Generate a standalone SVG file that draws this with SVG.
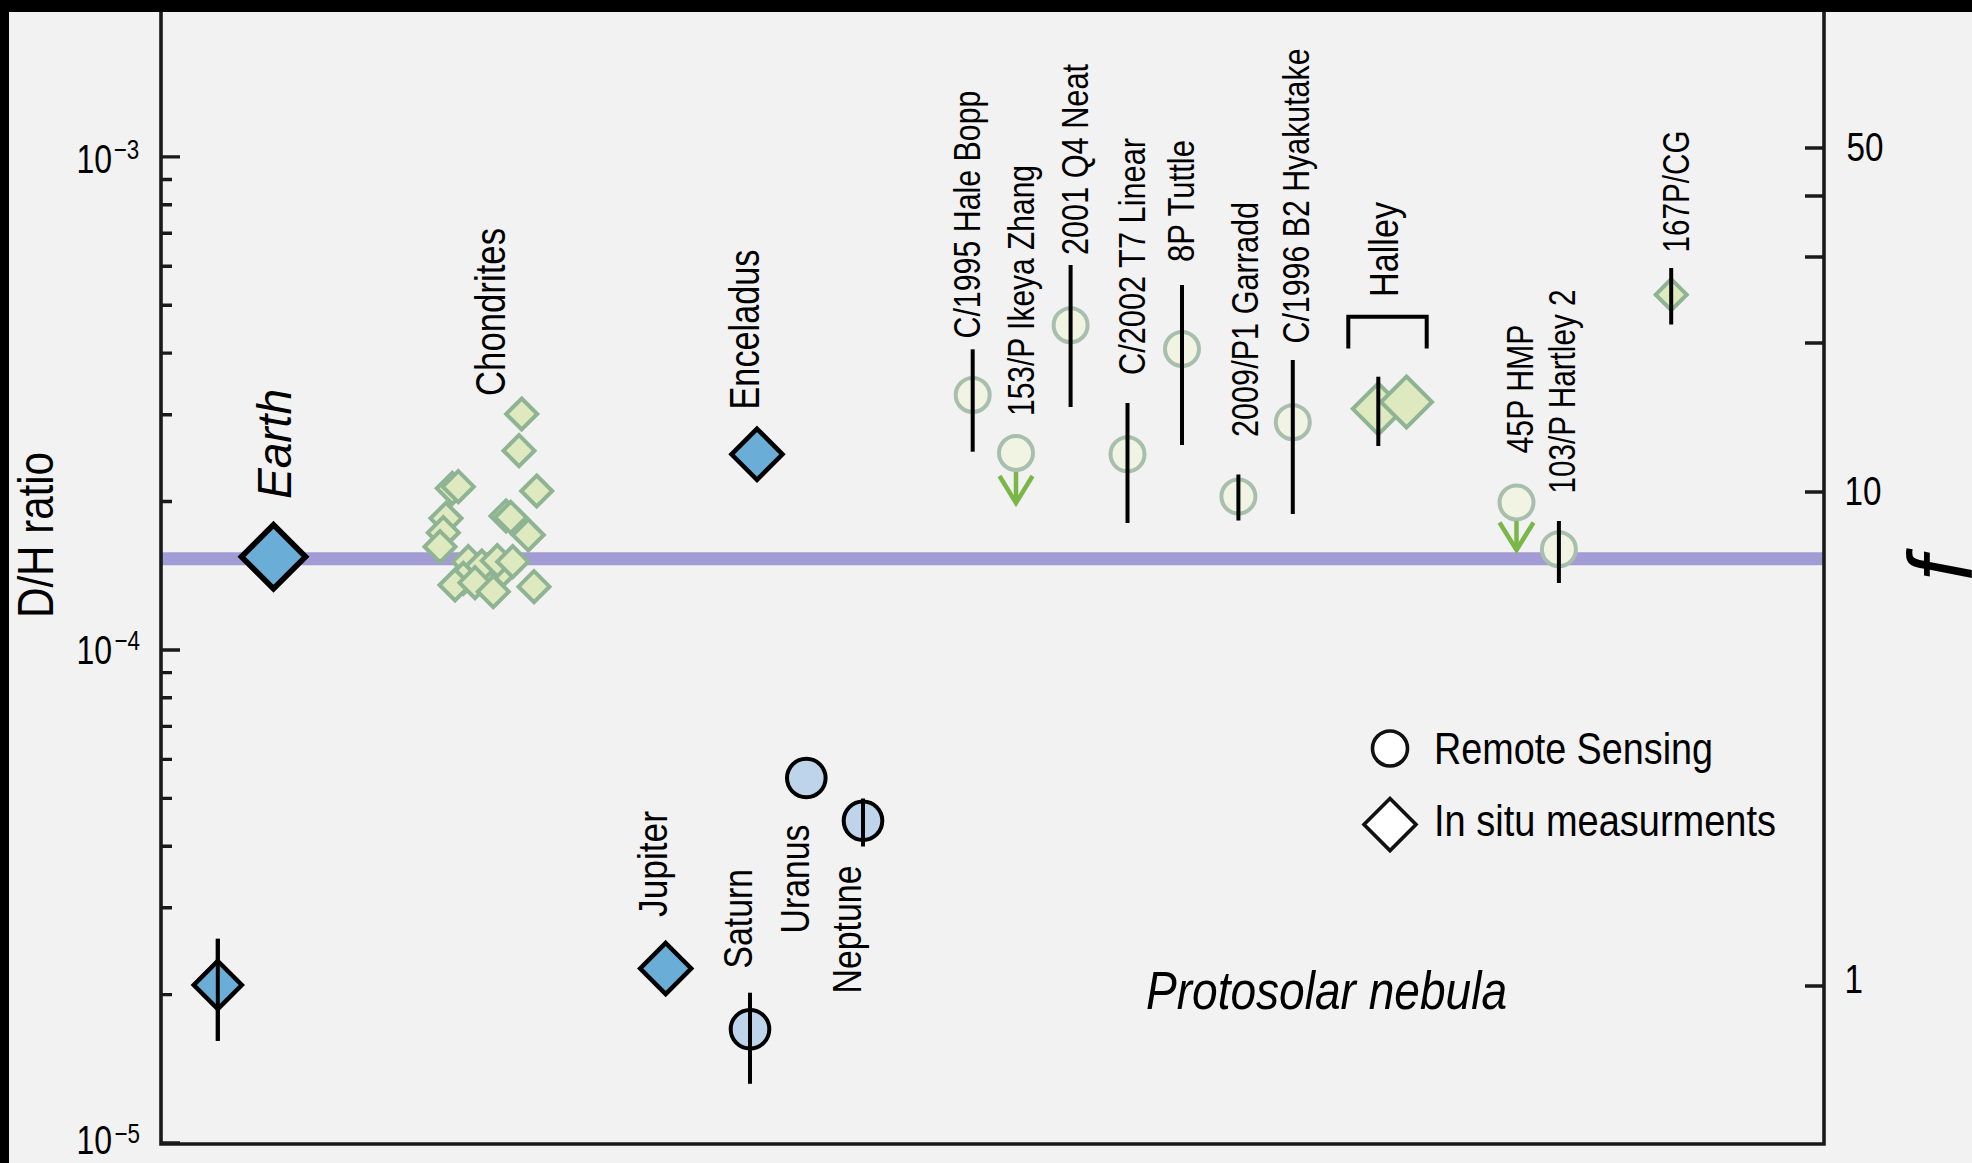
<svg xmlns="http://www.w3.org/2000/svg" xmlns:xlink="http://www.w3.org/1999/xlink" width="1972" height="1163" viewBox="0 0 1972 1163">
<style>
.ax{stroke:#1a1a1a;stroke-width:3.6;fill:none}
.tk{stroke:#1a1a1a;stroke-width:3.4}
.eb{stroke:#000;stroke-width:4;fill:none}
.comet{fill:#f1f3e3;stroke:#a9bfad;stroke-width:4}
.chon{fill:#dfe9bf;stroke:#8fb493;stroke-width:4}
.blue{fill:#6aadd6;stroke:#000;stroke-width:4.5;stroke-linejoin:miter}
.planet{fill:#bdd4ea;stroke:#000;stroke-width:4}
.leg{fill:#fff;stroke:#111;stroke-width:3.6}
.arr{stroke:#7ab648;fill:none;stroke-width:4.5}
.t{font-family:"Liberation Sans",Arial,sans-serif;fill:#000}
.i{font-style:italic}
.sup{font-size:28px}
</style>
<defs>
<path id="dc" d="M0,-15.5L15.5,0L0,15.5L-15.5,0Z"/>
<path id="dh" d="M0,-25.5L25.5,0L0,25.5L-25.5,0Z"/>
</defs>
<rect x="0" y="0" width="1972" height="1163" fill="#f2f2f2"/>
<rect x="0" y="0" width="1972" height="12" fill="#000"/>
<rect x="0" y="0" width="9" height="1163" fill="#000"/>

<g id="protosolar-line">
<line x1="161" y1="558.7" x2="1824" y2="558.7" stroke="#a39bd3" stroke-width="13"/>
</g>

<g id="axes">
<path class="ax" d="M161,12V1144H1824V12"/>
<g id="left-ticks">
<path class="tk" d="M161,156.9H180M161,650H180M161,1143H180"/>
<path class="tk" d="M161,179.5H172M161,204.7H172M161,233.3H172M161,266.3H172M161,305.3H172M161,353.1H172M161,414.7H172M161,501.5H172M161,672.6H172M161,697.8H172M161,726.4H172M161,759.4H172M161,798.4H172M161,846.2H172M161,907.8H172M161,994.6H172"/>
</g>
<g id="right-ticks">
<path class="tk" d="M1805,148H1824M1805,196H1824M1805,257H1824M1805,343H1824M1805,492H1824M1805,986H1824"/>
</g>
<g id="left-tick-labels" class="t">
<text transform="translate(76.5,173.2) scale(0.8,1)" font-size="40">10<tspan class="sup" dx="2" dy="-14.2">−3</tspan></text>
<text transform="translate(76.5,663.8) scale(0.8,1)" font-size="40">10<tspan class="sup" dx="3" dy="-13.8">−4</tspan></text>
<text transform="translate(76.5,1153.5) scale(0.8,1)" font-size="40">10<tspan class="sup" dx="3" dy="-10.5">−5</tspan></text>
</g>
<g id="right-tick-labels" class="t">
<text x="1846.5" y="160.7" font-size="40" textLength="37" lengthAdjust="spacingAndGlyphs">50</text>
<text x="1844.5" y="505" font-size="40" textLength="37" lengthAdjust="spacingAndGlyphs">10</text>
<text x="1844.5" y="992.7" font-size="40" textLength="18.5" lengthAdjust="spacingAndGlyphs">1</text>
</g>
<text id="y-title" class="t" transform="translate(52.5,618) rotate(-90)" font-size="50" textLength="166" lengthAdjust="spacingAndGlyphs">D/H ratio</text>
<text id="f-title" class="t i" transform="translate(1972,581) rotate(-90)" font-size="90">f</text>
</g>

<g id="connectors">
<path class="eb" d="M217.8,938.8V1040.8"/>
</g>

<g id="earth">
<use xlink:href="#dh" href="#dh" class="blue" transform="translate(273.5,556.7) scale(1.255)"/>
<text class="t i" transform="translate(290.5,499) rotate(-90)" font-size="49" textLength="110" lengthAdjust="spacingAndGlyphs">Earth</text>
</g>

<g id="protosolar-point">
<path class="blue" d="M217.8,961L241.8,985L217.8,1009L193.8,985Z"/>
<path class="eb" d="M217.8,938.8V1040.8"/>
</g>

<g id="chondrites">
<g class="chon">
<use href="#dc" x="521.7" y="414"/>
<use href="#dc" x="519" y="450.7"/>
<use href="#dc" x="452.3" y="488.3"/>
<use href="#dc" x="458.3" y="486.7"/>
<use href="#dc" x="536.7" y="491"/>
<use href="#dc" x="446" y="518.3"/>
<use href="#dc" x="443.3" y="532.7"/>
<use href="#dc" x="440" y="546.7"/>
<use href="#dc" x="506" y="516"/>
<use href="#dc" x="510.7" y="517.3"/>
<use href="#dc" x="528.3" y="535"/>
<use href="#dc" x="488.3" y="572.7"/>
<use href="#dc" x="503.3" y="570"/>
<use href="#dc" x="468.3" y="561.7"/>
<use href="#dc" x="481.7" y="566"/>
<use href="#dc" x="497.3" y="560.7"/>
<use href="#dc" x="512.7" y="561.7"/>
<use href="#dc" x="463.3" y="578.3"/>
<use href="#dc" x="455" y="585"/>
<use href="#dc" x="475" y="582.7"/>
<use href="#dc" x="493.3" y="591.7"/>
<use href="#dc" x="534" y="586.7"/>
</g>
<text class="t" transform="translate(504.5,396) rotate(-90)" font-size="42" textLength="168" lengthAdjust="spacingAndGlyphs">Chondrites</text>
</g>

<g id="enceladus">
<path class="blue" d="M757,428.8L782.5,454.3L757,479.8L731.5,454.3Z"/>
<text class="t" transform="translate(758.5,409.5) rotate(-90)" font-size="42" textLength="160" lengthAdjust="spacingAndGlyphs">Enceladus</text>
</g>

<g id="jupiter">
<path class="blue" d="M665.7,943L691.2,968.5L665.7,994L640.2,968.5Z"/>
<text class="t" transform="translate(667,917) rotate(-90)" font-size="41" textLength="106" lengthAdjust="spacingAndGlyphs">Jupiter</text>
</g>

<g id="saturn">
<circle class="planet" cx="750" cy="1029.2" r="19.3"/>
<path class="eb" d="M750,992.7V1083.8"/>
<text class="t" transform="translate(751.5,968.5) rotate(-90)" font-size="41" textLength="99.5" lengthAdjust="spacingAndGlyphs">Saturn</text>
</g>

<g id="uranus">
<circle class="planet" cx="806.3" cy="778" r="19.3"/>
<text class="t" transform="translate(809,933.5) rotate(-90)" font-size="41" textLength="109" lengthAdjust="spacingAndGlyphs">Uranus</text>
</g>

<g id="neptune">
<circle class="planet" cx="863" cy="820.8" r="19.3"/>
<path class="eb" d="M863,798.5V846.5"/>
<text class="t" transform="translate(861,993.5) rotate(-90)" font-size="41" textLength="128" lengthAdjust="spacingAndGlyphs">Neptune</text>
</g>

<g id="hale-bopp">
<circle class="comet" cx="972.7" cy="395" r="17"/>
<path class="eb" d="M972.7,349.3V451.7"/>
<text class="t" transform="translate(979.5,338.5) rotate(-90)" font-size="36.6" textLength="248" lengthAdjust="spacingAndGlyphs">C/1995 Hale Bopp</text>
</g>

<g id="ikeya-zhang">
<circle class="comet" cx="1016" cy="453" r="17"/>
<path class="arr" d="M1016,472V500" stroke-width="7"/>
<path class="arr" d="M999.5,476L1016,503L1032.5,476"/>
<text class="t" transform="translate(1033.5,416) rotate(-90)" font-size="36.6" textLength="251" lengthAdjust="spacingAndGlyphs">153/P Ikeya Zhang</text>
</g>

<g id="q4-neat">
<circle class="comet" cx="1070.6" cy="325.2" r="17"/>
<path class="eb" d="M1070.6,265V407"/>
<text class="t" transform="translate(1088,255) rotate(-90)" font-size="36.6" textLength="191" lengthAdjust="spacingAndGlyphs">2001 Q4 Neat</text>
</g>

<g id="t7-linear">
<circle class="comet" cx="1127.5" cy="454.3" r="17"/>
<path class="eb" d="M1127.5,403V523"/>
<text class="t" transform="translate(1145,375) rotate(-90)" font-size="36.6" textLength="237" lengthAdjust="spacingAndGlyphs">C/2002 T7 Linear</text>
</g>

<g id="tuttle">
<circle class="comet" cx="1182" cy="349" r="17"/>
<path class="eb" d="M1182,285V445"/>
<text class="t" transform="translate(1194,262) rotate(-90)" font-size="36.6" textLength="122" lengthAdjust="spacingAndGlyphs">8P Tuttle</text>
</g>

<g id="garradd">
<circle class="comet" cx="1238.4" cy="496.5" r="17"/>
<path class="eb" d="M1238.4,474.5V520.5"/>
<text class="t" transform="translate(1258,437) rotate(-90)" font-size="36.6" textLength="235" lengthAdjust="spacingAndGlyphs">2009/P1 Garradd</text>
</g>

<g id="hyakutake">
<circle class="comet" cx="1292.8" cy="422.2" r="17"/>
<path class="eb" d="M1292.8,360V514"/>
<text class="t" transform="translate(1308.5,343.5) rotate(-90)" font-size="36.6" textLength="295" lengthAdjust="spacingAndGlyphs">C/1996 B2 Hyakutake</text>
</g>

<g id="halley">
<use href="#dh" class="chon" x="1378.3" y="408.8"/>
<use href="#dh" class="chon" x="1406.5" y="402"/>
<path class="eb" d="M1378.3,376.7V446"/>
<path class="eb" d="M1348.3,348.5V316.7H1426.7V348.5" stroke-width="4.5"/>
<text class="t" transform="translate(1398,297) rotate(-90)" font-size="40" textLength="95" lengthAdjust="spacingAndGlyphs">Halley</text>
</g>

<g id="hmp-45p">
<circle class="comet" cx="1516.5" cy="502.5" r="17"/>
<path class="arr" d="M1516.5,521V547" stroke-width="7"/>
<path class="arr" d="M1499.5,522.5L1516.5,550L1533.5,522.5"/>
<text class="t" transform="translate(1532.5,453.5) rotate(-90)" font-size="36.6" textLength="129" lengthAdjust="spacingAndGlyphs">45P HMP</text>
</g>

<g id="hartley-2">
<circle class="comet" cx="1558.9" cy="549.2" r="17"/>
<path class="eb" d="M1558.9,521V583"/>
<text class="t" transform="translate(1575,493.5) rotate(-90)" font-size="36.6" textLength="204" lengthAdjust="spacingAndGlyphs">103/P Hartley 2</text>
</g>

<g id="cg-67p">
<use href="#dc" class="chon" x="1671.2" y="294.7"/>
<path class="eb" d="M1671.2,268V324.5"/>
<text class="t" transform="translate(1689,252.5) rotate(-90)" font-size="36.6" textLength="122" lengthAdjust="spacingAndGlyphs">167P/CG</text>
</g>

<g id="protosolar-label">
<text class="t i" x="1146" y="1009" font-size="53" textLength="361" lengthAdjust="spacingAndGlyphs">Protosolar nebula</text>
</g>

<g id="legend">
<circle class="leg" cx="1390" cy="748.5" r="17.5"/>
<path class="leg" d="M1390,798.6L1416,824.6L1390,850.6L1364,824.6Z"/>
<text class="t" x="1434" y="763.8" font-size="45" textLength="279" lengthAdjust="spacingAndGlyphs">Remote Sensing</text>
<text class="t" x="1434" y="835.8" font-size="45" textLength="342" lengthAdjust="spacingAndGlyphs">In situ measurments</text>
</g>
</svg>
